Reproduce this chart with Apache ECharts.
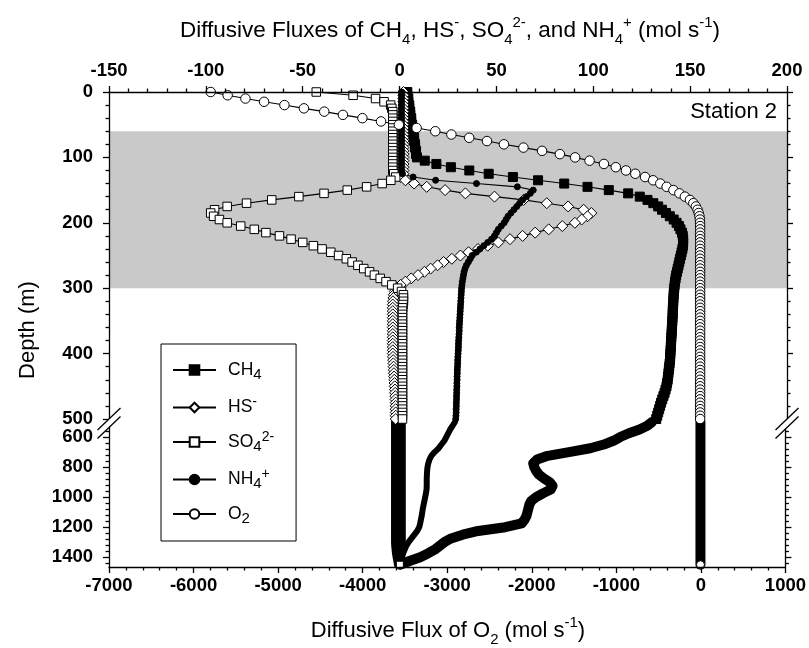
<!DOCTYPE html>
<html>
<head>
<meta charset="utf-8">
<title>Diffusive fluxes – Station 2</title>
<script src="https://cdn.jsdelivr.net/npm/echarts@6/dist/echarts.min.js"></script>
<style>
  html, body { margin: 0; padding: 0; background: #fff; }
  #chart { width: 809px; height: 648px; }
</style>
</head>
<body>
<div id="chart"></div>
<script>
// ---------------------------------------------------------------
// Station 2 profiles: diffusive fluxes vs. depth
// Upper section 0–500 m sampled every 5 m; lower section 500–1450 m
// ---------------------------------------------------------------
const depthUpper = [
  0,5,10,15,20,25,30,35,40,45,
  50,55,60,65,70,75,80,85,90,95,
  100,105,110,115,120,125,130,135,140,145,
  150,155,160,165,170,175,180,185,190,195,
  200,205,210,215,220,225,230,235,240,245,
  250,255,260,265,270,275,280,285,290,295,
  300,305,310,315,320,325,330,335,340,345,
  350,355,360,365,370,375,380,385,390,395,
  400,405,410,415,420,425,430,435,440,445,
  450,455,460,465,470,475,480,485,490,495,
  500
];

// CH4, HS-, SO4 2-, NH4+ fluxes (mol s-1), top scale
const ch4Upper = [
  4,4,4.5,4.5,5,5,5.5,5.5,6,6,
  6.5,6.5,7,7,7.5,7.5,8,8,8.5,8.5,
  9,13,19,26.5,36,46,58.5,71.5,85,97,
  108,118,124,128,131,133.5,135.5,137.5,139.5,141.5,
  143,144.2,145,145.8,146.2,146.4,146.4,146.3,146,145.6,
  145.2,144.8,144.4,144,143.6,143.2,142.8,142.5,142.2,142,
  141.8,141.6,141.5,141.4,141.3,141.2,141.1,141,141,140.9,
  140.8,140.7,140.6,140.5,140.4,140.3,140.2,140.1,140,139.9,
  139.8,139.7,139.6,139.4,139.2,139,138.8,138.6,138.4,138.1,
  137.8,137.3,136.8,136.2,135.6,135,134.5,134,133.5,133,
  132.5
];
const hsUpper = [
  2,2,2,2,2,2,2,2,2,2,
  2,2,2,2,2,2,2,2,2,2,
  2,2,2,2,2,2,0.5,3,7.5,14,
  23.5,34,49,64,76,87,95,99,97,94,
  90.5,84,77,70,63.5,57,51,45.5,40.5,35.6,
  31.4,27,22.7,19.6,16,12.8,9.5,6,3,0.5,
  -1.5,-2.5,-3,-3.2,-3.4,-3.5,-3.5,-3.5,-3.5,-3.5,
  -3.5,-3.5,-3.5,-3.5,-3.5,-3.5,-3.5,-3.5,-3.5,-3.5,
  -3.5,-3.4,-3.3,-3.2,-3.1,-3,-2.9,-2.8,-2.7,-2.6,
  -2.5,-2.4,-2.3,-2.2,-2.1,-2,-2,-2,-2,-2,
  -2
];
const so4Upper = [
  -43,-24,-12.4,-8,-4.6,-4,-3.5,-3.5,-3.5,-3.5,
  -3.5,-3.5,-3.5,-3.5,-3.5,-3.5,-3.5,-3.5,-3.5,-3.5,
  -3.5,-3.5,-3.5,-3.5,-3.5,-3,-2,-4.5,-9,-17,
  -27,-39,-52,-66,-79,-89,-95.5,-97.5,-96,-93,
  -89,-82,-75,-69,-62,-56,-50,-44.5,-40,-35.5,
  -31.5,-27.5,-24.5,-21.5,-18.5,-15.5,-13,-10,-7,-4,
  -1,1,2,2,2,1.8,1.6,1.5,1.5,1.5,
  1.5,1.5,1.5,1.5,1.5,1.5,1.5,1.5,1.5,1.5,
  1.5,1.5,1.5,1.5,1.5,1.5,1.5,1.5,1.5,1.5,
  1.5,1.5,1.5,1.5,1.5,1.5,1.5,1.5,1.5,1.5,
  1.5
];
const nh4Upper = [
  1,1,1,1,1,1,1,1,1,1,
  1,1,1,1,1,1,1,1,1,1,
  1,1,1,1,1,1.5,7,18.6,39.7,60.8,
  69,67.5,65.5,63.5,62,60.5,59,57.5,56,55,
  54,52.5,51,50,49,47.5,45.5,43.5,41.5,39.5,
  37.5,36.5,35.5,34.5,33.8,33.3,33,32.7,32.4,32.2,
  32,31.9,31.8,31.7,31.6,31.5,31.4,31.3,31.2,31.1,
  31,30.9,30.8,30.8,30.7,30.6,30.5,30.4,30.4,30.3,
  30.2,30.1,30,30,29.9,29.8,29.8,29.7,29.7,29.6,
  29.6,29.5,29.5,29.4,29.4,29.3,29.3,29.2,29.2,29.1,
  29
];
// O2 flux (mol s-1), bottom scale
const o2Upper = [
  -5800,-5600,-5390,-5170,-4930,-4700,-4460,-4240,-4010,-3790,
  -3580,-3370,-3150,-2960,-2750,-2540,-2340,-2110,-1890,-1680,
  -1500,-1330,-1160,-1020,-900,-790,-675,-580,-495,-420,
  -340,-270,-205,-145,-105,-75,-55,-42,-33,-28,
  -26,-25,-25,-25,-25,-25,-25,-25,-25,-25,
  -25,-25,-25,-25,-25,-25,-25,-25,-25,-25,
  -25,-25,-25,-25,-25,-25,-25,-25,-25,-25,
  -25,-25,-25,-25,-25,-25,-25,-25,-25,-25,
  -25,-25,-25,-25,-25,-25,-25,-25,-25,-25,
  -25,-25,-25,-25,-25,-25,-25,-25,-25,-25,
  -25
];

// Deep section, 500–1450 m every 25 m
const depthLower = [
  500,525,550,575,600,625,650,675,700,725,
  750,775,800,825,850,875,900,925,950,975,
  1000,1025,1050,1075,1100,1125,1150,1175,1200,1225,
  1250,1275,1300,1325,1350,1375,1400,1425,1450
];
const ch4Lower = [
  131,128.5,124.5,119,114.5,111,106,99,88,77,
  71.5,69.5,70,71,72.5,75,78,79.5,78.5,74.5,
  71,68.5,67.5,67,66.5,66,65,63.5,55,41,
  33,27,23.5,21,18.5,15,11,5.5,0.5
];
const hsLower = [
  -2,-2,-2,-2,-2,-2,-2,-2,-2,-2,
  -2,-2,-2,-2,-2,-2,-2,-2,-2,-2,
  -2,-2,-2,-2,-2,-2,-2,-2,-2,-2,
  -2,-2,-2,-1.9,-1.7,-1.5,-1.2,-0.8,-0.5
];
const so4Lower = [
  1.5,1.5,1.5,1.5,1.5,1.5,1.5,1.5,1.5,1.5,
  1.5,1.5,1.5,1.5,1.5,1.5,1.5,1.5,1.5,1.5,
  1.5,1.5,1.5,1.5,1.5,1.5,1.5,1.5,1.5,1.5,
  1.5,1.5,1.5,1.4,1.3,1.1,1,0.8,0.5
];
const nh4Lower = [
  29,27.8,26.5,25.5,24.5,23.5,22,20.5,18.5,16.8,
  15.8,15.2,14.8,14.6,14.5,14.4,14.4,14.4,14.3,14,
  13.6,13.2,12.8,12.4,12.1,11.8,11.4,11,10.5,9.5,
  8,6.5,5,3.8,3,2.2,1.6,1,0.5
];
const o2Lower = [
  -5,-5,-5,-5,-5,-5,-5,-5,-5,-5,
  -5,-5,-5,-5,-5,-5,-5,-5,-5,-5,
  -5,-5,-5,-5,-5,-5,-5,-5,-5,-5,
  -5,-5,-5,-5,-5,-5,-5,-5,-5
];

// Shaded depth interval (m)
const bandDepths = [60, 300];

// Axis ranges and tick values
const fluxRange = [-150, 200];
const o2Range = [-7000, 1000];
const upperDepthRange = [0, 500];
const lowerDepthRange = [500, 1465];
const lowerMajorTicks = [600, 800, 1000, 1200, 1400];
const lowerMinorTicks = [520, 560, 640, 680, 720, 760, 840, 880, 920, 960,
                         1040, 1080, 1120, 1160, 1240, 1280, 1320, 1360, 1440];

const seriesNames = ['CH4', 'HS-', 'SO42-', 'NH4+', 'O2'];
const legendLabels = {
  'CH4': '{t|CH}{sub|4}',
  'HS-': '{t|HS}{sup|-}',
  'SO42-': '{t|SO}{sub|4}{sup|2-}',
  'NH4+': '{t|NH}{sub|4}{sup|+}',
  'O2': '{t|O}{sub|2}'
};

// ---------------------------------------------------------------
const FONT = 'Liberation Sans';
const BLACK = '#000';
const AX = { color: BLACK, width: 1.3 };
const LABEL = {
  fontFamily: FONT, fontWeight: 'bold', fontSize: 18.5, color: BLACK,
  formatter: v => String(v)
};

const pairs = (vals, depths) => vals.map((v, i) => [v, depths[i]]);
// deep section: thick trace with the marker drawn on the last sample only
const deepData = (vals, depths, endSymbol, endSize) =>
  vals.map((v, i) => (endSymbol && i === vals.length - 1)
    ? { value: [v, depths[i]], symbol: endSymbol, symbolSize: endSize }
    : [v, depths[i]]);

function valueAxis(opts) {
  return Object.assign({
    type: 'value',
    axisLine: { show: true, onZero: false, lineStyle: AX },
    axisTick: { show: true, inside: false, length: 6, lineStyle: AX },
    minorTick: { show: false },
    splitLine: { show: false },
    minorSplitLine: { show: false },
    z: 10
  }, opts);
}

const upperStyles = {
  'CH4':   { symbol: 'rect',    symbolSize: 9,   fill: BLACK },
  'HS-':   { symbol: 'diamond', symbolSize: 11,  fill: '#fff' },
  'SO42-': { symbol: 'rect',    symbolSize: 8.5, fill: '#fff' },
  'NH4+':  { symbol: 'circle',  symbolSize: 6,   fill: BLACK },
  'O2':    { symbol: 'circle',  symbolSize: 9.5, fill: '#fff' }
};

function upperSeries(name, vals, xIdx) {
  const s = upperStyles[name];
  return {
    name, type: 'line', xAxisIndex: xIdx, yAxisIndex: 0,
    data: pairs(vals, depthUpper),
    symbol: s.symbol, symbolSize: s.symbolSize, showSymbol: true,
    itemStyle: { color: s.fill, borderColor: BLACK, borderWidth: 1 },
    lineStyle: { color: BLACK, width: 1.1 },
    emphasis: { disabled: true },
    z: 3
  };
}

function lowerSeries(name, vals, xIdx, width, endSymbol, endSize) {
  return {
    name, type: 'line', xAxisIndex: xIdx, yAxisIndex: 2,
    data: deepData(vals, depthLower, endSymbol, endSize),
    symbol: 'none', showSymbol: true,
    itemStyle: { color: '#fff', borderColor: BLACK, borderWidth: 1 },
    lineStyle: { color: BLACK, width: width, cap: 'round', join: 'round' },
    emphasis: { disabled: true },
    z: 3
  };
}

const option = {
  animation: false,
  backgroundColor: '#fff',
  grid: [
    { left: 109, right: 22, top: 92, height: 327 },
    { left: 109, right: 22, top: 422, height: 145 }
  ],
  xAxis: [
    valueAxis({
      gridIndex: 0, position: 'top', min: fluxRange[0], max: fluxRange[1], interval: 50,
      minorTick: { show: true, splitNumber: 5, length: 3.5, lineStyle: AX },
      axisLabel: Object.assign({}, LABEL, { margin: 12 })
    }),
    { gridIndex: 0, type: 'value', min: o2Range[0], max: o2Range[1], show: false },
    { gridIndex: 1, type: 'value', min: fluxRange[0], max: fluxRange[1], show: false },
    valueAxis({
      gridIndex: 1, position: 'bottom', min: o2Range[0], max: o2Range[1], interval: 1000,
      minorTick: { show: true, splitNumber: 5, length: 3.5, lineStyle: AX },
      axisLabel: Object.assign({}, LABEL, { margin: 9 })
    })
  ],
  yAxis: [
    valueAxis({
      gridIndex: 0, position: 'left', inverse: true,
      min: upperDepthRange[0], max: upperDepthRange[1], interval: 100,
      minorTick: { show: true, splitNumber: 5, length: 3.5, lineStyle: AX },
      axisLabel: Object.assign({}, LABEL, { margin: 16 })
    }),
    valueAxis({
      gridIndex: 0, position: 'right', inverse: true,
      min: upperDepthRange[0], max: upperDepthRange[1], interval: 100,
      minorTick: { show: true, splitNumber: 5, length: 3.5, lineStyle: AX },
      axisLabel: { show: false }
    }),
    valueAxis({
      gridIndex: 1, position: 'left', inverse: true,
      min: lowerDepthRange[0], max: lowerDepthRange[1],
      axisTick: { show: true, length: 6, lineStyle: AX, customValues: lowerMajorTicks },
      axisLabel: Object.assign({}, LABEL, { margin: 16, customValues: lowerMajorTicks })
    }),
    valueAxis({
      gridIndex: 1, position: 'right', inverse: true,
      min: lowerDepthRange[0], max: lowerDepthRange[1],
      axisTick: { show: true, length: 6, lineStyle: AX, customValues: lowerMajorTicks },
      axisLabel: { show: false }
    }),
    valueAxis({
      gridIndex: 1, position: 'left', inverse: true,
      min: lowerDepthRange[0], max: lowerDepthRange[1],
      axisLine: { show: false, onZero: false },
      axisTick: { show: true, length: 3.5, lineStyle: AX, customValues: lowerMinorTicks },
      axisLabel: { show: false }
    }),
    valueAxis({
      gridIndex: 1, position: 'right', inverse: true,
      min: lowerDepthRange[0], max: lowerDepthRange[1],
      axisLine: { show: false, onZero: false },
      axisTick: { show: true, length: 3.5, lineStyle: AX, customValues: lowerMinorTicks },
      axisLabel: { show: false }
    })
  ],
  legend: {
    data: seriesNames,
    orient: 'vertical',
    left: 161, top: 344,
    itemWidth: 43, itemHeight: 12, itemGap: 13.5,
    padding: [17, 22, 15, 11],
    backgroundColor: '#fff',
    borderColor: BLACK, borderWidth: 1, borderRadius: 0,
    selectedMode: false,
    formatter: name => legendLabels[name],
    textStyle: {
      color: BLACK, fontFamily: FONT, fontSize: 17,
      padding: [0, 0, 0, 7],
      rich: {
        t:   { fontFamily: FONT, fontSize: 17.5, lineHeight: 24, verticalAlign: 'middle', color: BLACK },
        sub: { fontFamily: FONT, fontSize: 15, lineHeight: 13, verticalAlign: 'bottom', color: BLACK },
        sup: { fontFamily: FONT, fontSize: 14, lineHeight: 13, verticalAlign: 'top', color: BLACK }
      }
    },
    z: 20
  },
  series: [
    {
      name: 'band', type: 'line', xAxisIndex: 0, yAxisIndex: 0, data: [],
      silent: true, z: 1,
      markArea: {
        silent: true,
        itemStyle: { color: '#c9c9c9' },
        data: [[{ yAxis: bandDepths[0] }, { yAxis: bandDepths[1] }]]
      }
    },
    upperSeries('CH4', ch4Upper, 0),
    upperSeries('HS-', hsUpper, 0),
    upperSeries('SO42-', so4Upper, 0),
    upperSeries('NH4+', nh4Upper, 0),
    upperSeries('O2', o2Upper, 1),
    lowerSeries('CH4', ch4Lower, 2, 10),
    lowerSeries('HS-', hsLower, 2, 8),
    lowerSeries('SO42-', so4Lower, 2, 8, 'rect', 7),
    lowerSeries('NH4+', nh4Lower, 2, 6),
    lowerSeries('O2', o2Lower, 3, 10, 'circle', 8)
  ],
  graphic: [
    // figure titles
    {
      type: 'text', x: 450, y: 31, z: 50,
      style: {
        text: '{t|Diffusive Fluxes of CH}{sub|4}{t|, HS}{sup|-}{t|, SO}{sub|4}{sup|2-}{t|, and NH}{sub|4}{sup|+}{t| (mol s}{sup|-1}{t|)}',
        align: 'center', verticalAlign: 'middle', fill: BLACK,
        rich: {
          t:   { fontFamily: FONT, fontSize: 22.5, lineHeight: 32, verticalAlign: 'middle', fill: BLACK },
          sub: { fontFamily: FONT, fontSize: 15, lineHeight: 14, verticalAlign: 'bottom', fill: BLACK },
          sup: { fontFamily: FONT, fontSize: 15, lineHeight: 14, verticalAlign: 'top', fill: BLACK }
        }
      }
    },
    {
      type: 'text', x: 448, y: 631, z: 50,
      style: {
        text: '{t|Diffusive Flux of O}{sub|2}{t| (mol s}{sup|-1}{t|)}',
        align: 'center', verticalAlign: 'middle', fill: BLACK,
        rich: {
          t:   { fontFamily: FONT, fontSize: 22, lineHeight: 32, verticalAlign: 'middle', fill: BLACK },
          sub: { fontFamily: FONT, fontSize: 15, lineHeight: 14, verticalAlign: 'bottom', fill: BLACK },
          sup: { fontFamily: FONT, fontSize: 15, lineHeight: 14, verticalAlign: 'top', fill: BLACK }
        }
      }
    },
    {
      type: 'text', x: 28, y: 330, rotation: Math.PI / 2, z: 50,
      style: {
        text: 'Depth (m)', fontFamily: FONT, fontSize: 22, fill: BLACK,
        align: 'center', verticalAlign: 'middle'
      }
    },
    {
      type: 'text', x: 777, y: 112, z: 50,
      style: {
        text: 'Station 2', fontFamily: FONT, fontSize: 22, fill: BLACK,
        align: 'right', verticalAlign: 'middle'
      }
    },
    // axis break symbols (left and right frame)
    {
      type: 'group', x: 0, y: 0, z: 40,
      children: [0, 678].flatMap(dx => [
        { type: 'polygon', z: 40, shape: { points: [[97.5 + dx, 430], [120.5 + dx, 408], [120.5 + dx, 416.5], [97.5 + dx, 438.5]] },
          style: { fill: '#fff', stroke: null } },
        { type: 'line', z: 41, shape: { x1: 97.5 + dx, y1: 430, x2: 120.5 + dx, y2: 408 },
          style: { stroke: BLACK, lineWidth: 1.3 } },
        { type: 'line', z: 41, shape: { x1: 97.5 + dx, y1: 438.5, x2: 120.5 + dx, y2: 416.5 },
          style: { stroke: BLACK, lineWidth: 1.3 } }
      ])
    }
  ]
};

const chart = echarts.init(document.getElementById('chart'), null, { renderer: 'canvas' });
chart.setOption(option);
</script>
</body>
</html>
